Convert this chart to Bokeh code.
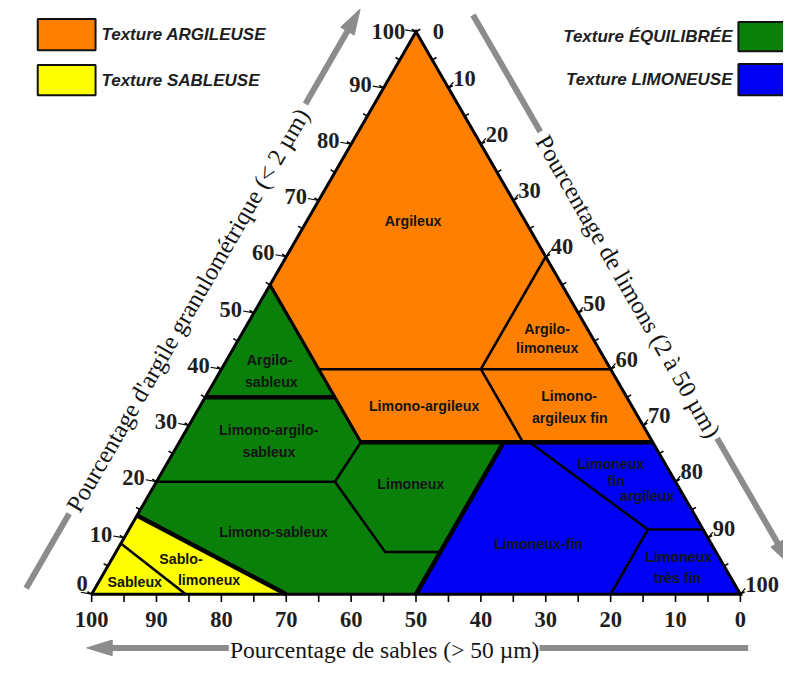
import math
from bokeh.plotting import figure
from bokeh.models import Range1d
from bokeh.core.properties import value
from bokeh.embed import file_html
from bokeh.resources import INLINE

# ---------------- data : soil texture classes (sand %, clay %) ----------------
argileux_sand = [45, 0, 0, 20, 45]
argileux_clay = [55, 100, 60, 40, 40]
argilo_limoneux_sand = [0, 0, 20]
argilo_limoneux_clay = [60, 40, 40]
limono_argileux_sand = [45, 20, 20, 45]
limono_argileux_clay = [40, 40, 27, 27]
limono_argileux_fin_sand = [20, 0, 0, 20]
limono_argileux_fin_clay = [40, 40, 27, 27]
argilo_sableux_sand = [45, 45, 65]
argilo_sableux_clay = [55, 35, 35]
limono_argilo_sableux_sand = [65, 45, 45, 52.5, 80]
limono_argilo_sableux_clay = [35, 35, 27, 20, 20]
limoneux_sand = [45, 23, 42.5, 51, 52.5]
limoneux_clay = [27, 27, 7.5, 7.5, 20]
limono_sableux_sand = [80, 52.5, 51, 42.5, 50, 70, 86]
limono_sableux_clay = [20, 20, 7.5, 7.5, 0, 0, 14]
limoneux_fin_sand = [23, 19, 8.5, 20, 50]
limoneux_fin_clay = [27, 27, 11.5, 0, 0]
limoneux_fin_argileux_sand = [19, 0, 0, 8.5]
limoneux_fin_argileux_clay = [27, 27, 11.5, 11.5]
limoneux_tres_fin_sand = [8.5, 0, 0, 20]
limoneux_tres_fin_clay = [11.5, 11.5, 0, 0]
sableux_sand = [100, 91, 85.5]
sableux_clay = [0, 9, 0]
sablo_limoneux_sand = [91, 86, 70, 85.5]
sablo_limoneux_clay = [9, 14, 0, 0]

texture_groups = ["ARGILEUSE", "ARGILEUSE", "ARGILEUSE", "ARGILEUSE",
                  "ÉQUILIBRÉE", "ÉQUILIBRÉE", "ÉQUILIBRÉE", "ÉQUILIBRÉE",
                  "LIMONEUSE", "LIMONEUSE", "LIMONEUSE", "SABLEUSE", "SABLEUSE"]

# class names (one entry per text line) and their positions (sand %, clay %)
label_text = ["Argileux", "Argilo-", "limoneux", "Limono-argileux", "Limono-", "argileux fin",
              "Argilo-", "sableux", "Limono-argilo-", "sableux", "Limoneux", "Limono-sableux",
              "Limoneux-fin", "Limoneux", "fin", "argileux", "Limoneux", "très fin",
              "Sableux", "Sablo-", "limoneux"]
label_sand = [17.3, 6.2, 7.9, 32.0, 8.8, 10.6, 51.7, 53.4, 58.1, 60.0, 41.0, 66.4,
              26.7, 8.4, 9.1, 5.6, 6.2, 8.3, 92.3, 83.1, 80.6]
label_clay = [66.3, 47.2, 43.75, 33.5, 35.2, 31.4, 41.7, 37.8, 29.2, 25.35, 19.6, 11.1,
              8.85, 23.1, 20.1, 17.5, 6.6, 2.8, 2.1, 6.25, 2.6]

sand_ticks = [100, 90, 80, 70, 60, 50, 40, 30, 20, 10, 0]
clay_ticks = [0, 10, 20, 30, 40, 50, 60, 70, 80, 90, 100]
silt_ticks = [0, 10, 20, 30, 40, 50, 60, 70, 80, 90, 100]
minor_step = 5

legend_left = ["ARGILEUSE", "SABLEUSE"]
legend_right = ["ÉQUILIBRÉE", "LIMONEUSE"]

# ---------------- layout ----------------
W, H = 783, 663            # figure size in pixels
RW, RH = 799, 679          # design space (layout units)
SX, SY = 6.62, 5.76        # design units per percent
OX, OY = 93, 608           # design position of (X=0, Y=0)
COLORS = {"ARGILEUSE": "#FF8000", "ÉQUILIBRÉE": "#0A800A",
          "LIMONEUSE": "#0000F5", "SABLEUSE": "#FFFF00"}
GREY = "#8C8C8C"


def tern(s, c):
    return 100 - s - c / 2.0, c


def to_ref(X, Y):
    return OX + SX * X, OY - SY * Y


def from_ref(xr, yr):
    return (xr - OX) / SX, (OY - yr) / SY


def tern_ref(s, c):
    return to_ref(*tern(s, c))


p = figure(width=W, height=H,
           x_range=Range1d(-OX / SX, (RW - OX) / SX),
           y_range=Range1d(-(RH - OY) / SY, OY / SY),
           output_backend="svg", toolbar_location=None,
           x_axis_location=None, y_axis_location=None,
           min_border=0, outline_line_color=None,
           background_fill_color="white", border_fill_color="white")
p.grid.visible = False

# ---------------- regions ----------------
regions = [
    (argileux_sand, argileux_clay), (argilo_limoneux_sand, argilo_limoneux_clay),
    (limono_argileux_sand, limono_argileux_clay), (limono_argileux_fin_sand, limono_argileux_fin_clay),
    (argilo_sableux_sand, argilo_sableux_clay), (limono_argilo_sableux_sand, limono_argilo_sableux_clay),
    (limoneux_sand, limoneux_clay), (limono_sableux_sand, limono_sableux_clay),
    (limoneux_fin_sand, limoneux_fin_clay), (limoneux_fin_argileux_sand, limoneux_fin_argileux_clay),
    (limoneux_tres_fin_sand, limoneux_tres_fin_clay),
    (sableux_sand, sableux_clay), (sablo_limoneux_sand, sablo_limoneux_clay),
]
xs, ys = [], []
for ss, cc in regions:
    pts = [tern(s, c) for s, c in zip(ss, cc)]
    xs.append([q[0] for q in pts])
    ys.append([q[1] for q in pts])
p.patches(xs, ys, fill_color=[COLORS[g] for g in texture_groups], line_color=None)


def tline(pairs):
    pts = [tern(s, c) for s, c in pairs]
    return [q[0] for q in pts], [q[1] for q in pts]


thin = [
    [(45, 40), (0, 40)],
    [(0, 60), (20, 40)],
    [(20, 40), (20, 27)],
    [(80, 20), (52.5, 20)],
    [(45, 27), (52.5, 20), (51, 7.5), (42.5, 7.5)],
    [(19, 27), (8.5, 11.5), (20, 0)],
    [(8.5, 11.5), (0, 11.5)],
    [(91, 9), (85.5, 0)],
]
thick = [
    [(45, 27), (0, 27)],
    [(65, 35), (45, 35)],
    [(23, 27), (50, 0)],
    [(86, 14), (70, 0)],
]
medium = [[(45, 55), (45, 27)]]
for group, lw in ((thin, 2.6), (medium, 3.2), (thick, 4.5)):
    gx, gy = [], []
    for seg in group:
        a, b = tline(seg)
        gx.append(a)
        gy.append(b)
    p.multi_line(gx, gy, line_color="black", line_width=lw, line_join="round")

ox, oy = tline([(100, 0), (0, 100), (0, 0), (100, 0)])
p.line(ox, oy, line_color="black", line_width=3, line_join="miter")

# ---------------- class labels ----------------
lx, ly = [], []
for s, c in zip(label_sand, label_clay):
    X, Y = tern(s, c)
    lx.append(X)
    ly.append(Y)
p.text(lx, ly, text=label_text, text_font=value("Liberation Sans"), text_font_style="bold",
       text_font_size="14.2px", text_color="#141414", text_align="center", text_baseline="middle")

# ---------------- ticks ----------------
BL = tern_ref(100, 0)
BR = tern_ref(0, 0)
AP = tern_ref(0, 100)
uL = ((AP[0] - BL[0]), (AP[1] - BL[1]))
nrm = math.hypot(*uL)
uL = (uL[0] / nrm, uL[1] / nrm)
nL = (uL[1], -uL[0])  # outward (up-left)
uR = ((BR[0] - AP[0]), (BR[1] - AP[1]))
nrm = math.hypot(*uR)
uR = (uR[0] / nrm, uR[1] / nrm)
nR = (abs(uR[1]), -abs(uR[0]))  # outward (up-right)

tx, ty = [], []
for v in range(0, 101, minor_step):
    ex, ey = tern_ref(v, 0)
    a = from_ref(ex, ey); b = from_ref(ex, ey + 8)
    tx.append([a[0], b[0]]); ty.append([a[1], b[1]])
    ex, ey = tern_ref(100 - v, v)
    a = from_ref(ex, ey); b = from_ref(ex + nL[0] * 5, ey + nL[1] * 5)
    tx.append([a[0], b[0]]); ty.append([a[1], b[1]])
    ex, ey = tern_ref(0, 100 - v)
    a = from_ref(ex, ey); b = from_ref(ex + nR[0] * 5, ey + nR[1] * 5)
    tx.append([a[0], b[0]]); ty.append([a[1], b[1]])
p.multi_line(tx, ty, line_color="black", line_width=1.6)

tick_font = dict(text_font=value("Liberation Serif"), text_font_style="bold",
                 text_font_size="22.5px", text_color="#1e1e1e", text_baseline="middle")

bx, by = [], []
for s in sand_ticks:
    ex, ey = tern_ref(s, 0)
    q = from_ref(ex, 634)
    bx.append(q[0]); by.append(q[1])
p.text(bx, by, text=[str(s) for s in sand_ticks], text_align="center", **tick_font)

cx, cy, conx, cony = [], [], [], []
for c in clay_ticks:
    ex, ey = tern_ref(100 - c, c)
    if c == 0:
        q = from_ref(ex - 4, ey - 11)
    elif c == 100:
        q = from_ref(ex - 11, ey)
    else:
        q = from_ref(ex - 12, ey - 4)
    cx.append(q[0]); cy.append(q[1])
    a = from_ref(ex - 11, ey - 2); b = from_ref(ex, ey)
    conx.append([a[0], b[0]]); cony.append([a[1], b[1]])
p.text(cx, cy, text=[str(c) for c in clay_ticks], text_align="right", **tick_font)

rx, ry = [], []
for t in silt_ticks:
    ex, ey = tern_ref(0, 100 - t)
    if t == 0:
        q = from_ref(ex + 17, ey)
    else:
        q = from_ref(ex + 5, ey - 10)
        a = from_ref(ex, ey); b = from_ref(ex + 5, ey - 6)
        conx.append([a[0], b[0]]); cony.append([a[1], b[1]])
    rx.append(q[0]); ry.append(q[1])
p.text(rx, ry, text=[str(t) for t in silt_ticks], text_align="left", **tick_font)
p.multi_line(conx, cony, line_color="black", line_width=1.2)

# ---------------- axis titles + arrows ----------------
title_font = dict(text_font=value("Liberation Serif"), text_color="#141414",
                  text_align="center", text_baseline="middle")


def along(origin, u, n, a, off):
    return origin[0] + u[0] * a + n[0] * off, origin[1] + u[1] * a + n[1] * off


sx_, sy_ = [], []
hx, hy = [], []


def arrow(origin, u, n, off, segs, tip, head_len=26, hw=8):
    for a0, a1 in segs:
        p0 = from_ref(*along(origin, u, n, a0, off))
        p1 = from_ref(*along(origin, u, n, a1, off))
        sx_.append([p0[0], p1[0]]); sy_.append([p0[1], p1[1]])
    T = along(origin, u, n, tip, off)
    B = along(origin, u, n, tip - head_len, off)
    pts = [T, (B[0] + n[0] * hw, B[1] + n[1] * hw), (B[0] - n[0] * hw, B[1] - n[1] * hw)]
    cv = [from_ref(*q) for q in pts]
    hx.append([q[0] for q in cv]); hy.append([q[1] for q in cv])


arrow(BL, uL, nL, 61, [(-28, 60), (544, 634)], 656)
arrow(AP, uR, nR, 59, [(14, 152), (514, 642)], 664)
arrow(BR, (-1, 0), (0, 1), 55, [(-8, 205), (522, 645)], 667)
p.multi_line(sx_, sy_, line_color=GREY, line_width=6, line_cap="butt")
p.patches(hx, hy, fill_color=GREY, line_color=GREY, line_width=1)

q = from_ref(*along(BL, uL, nL, 301, 60))
p.text([q[0]], [q[1]], text=["Pourcentage d'argile granulométrique (< 2 µm)"],
       angle=math.pi / 3, text_font_size="24.5px", **title_font)
q = from_ref(*along(AP, uR, nR, 334, 58))
p.text([q[0]], [q[1]], text=["Pourcentage de limons (2 à 50 µm)"],
       angle=-math.pi / 3, text_font_size="24.5px", **title_font)
q = from_ref(392, 665)
p.text([q[0]], [q[1]], text=["Pourcentage de sables (> 50 µm)"],
       text_font_size="23.5px", **title_font)

# ---------------- legend ----------------
leg_font = dict(text_font=value("Liberation Sans"), text_font_style="bold italic",
                text_font_size="17px", text_color="#1e1e1e", text_baseline="middle")
ql, qr, qt, qb, qc = [], [], [], [], []
for i, g in enumerate(legend_left):
    top, bot = (19, 51) if i == 0 else (66, 97)
    a = from_ref(38, top); b = from_ref(97, bot)
    ql.append(a[0]); qr.append(b[0]); qt.append(a[1]); qb.append(b[1]); qc.append(COLORS[g])
    t = from_ref(103, (top + bot) / 2)
    p.text([t[0]], [t[1]], text=["Texture " + g], text_align="left", **leg_font)
for i, g in enumerate(legend_right):
    top, bot = (22, 52) if i == 0 else (65, 97)
    a = from_ref(753, top); b = from_ref(812, bot)
    ql.append(a[0]); qr.append(b[0]); qt.append(a[1]); qb.append(b[1]); qc.append(COLORS[g])
    t = from_ref(747, (top + bot) / 2)
    p.text([t[0]], [t[1]], text=["Texture " + g], text_align="right", **leg_font)
p.quad(left=ql, right=qr, top=qt, bottom=qb, fill_color=qc, line_color="#111111", line_width=2)

open("out.html", "w").write(file_html(p, INLINE))
